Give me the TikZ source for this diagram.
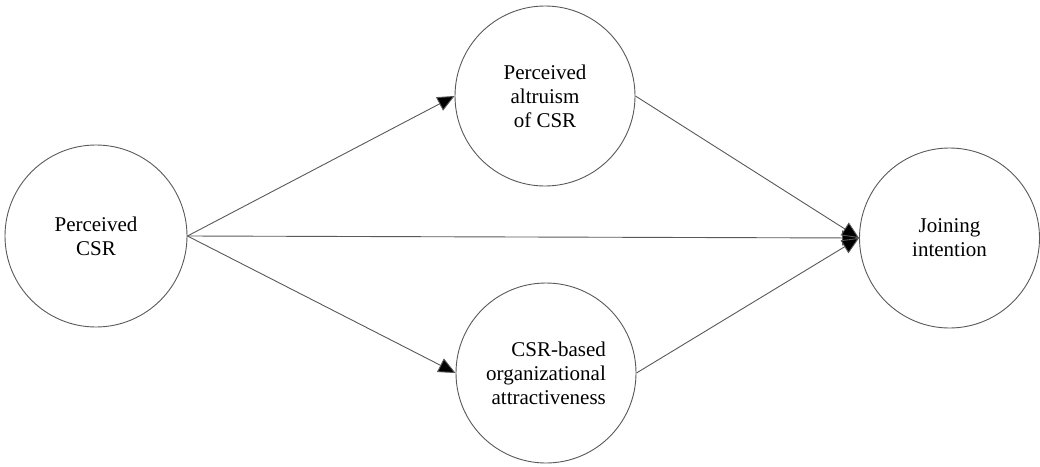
\documentclass[tikz,border=0pt]{standalone}
\usepackage{fontspec}
\setmainfont{Liberation Serif}
\usetikzlibrary{arrows.meta}
\begin{document}
\begin{tikzpicture}[x=1pt,y=-1pt,
  construct/.style={circle,draw=black!65,line width=0.9pt,minimum size=180pt,inner sep=0pt,
    font=\fontsize{21}{24}\selectfont,text=black},
  link/.style={draw=black!65,line width=0.9pt,-{Triangle[length=17pt,width=15pt,fill=black]}}]
\useasboundingbox (0,0) rectangle (1040,466);
\node[construct,minimum size=182pt,align=center] (L) at (96,236) {Perceived\\CSR};
\node[construct,align=center] (T) at (545,96) {Perceived\\altruism\\of CSR};
\node[construct,align=right] (B) at (546,373) {CSR-based\\organizational\\attractiveness};
\node[construct,align=center] (R) at (949.5,238) {Joining\\intention};
\draw[link] (L.east) -- (T.west);
\draw[link] (L.east) -- (B.west);
\draw[link] (L.east) -- (R.west);
\draw[link] (T.east) -- (R.west);
\draw[link] (B.east) -- (R.west);
\end{tikzpicture}
\end{document}
